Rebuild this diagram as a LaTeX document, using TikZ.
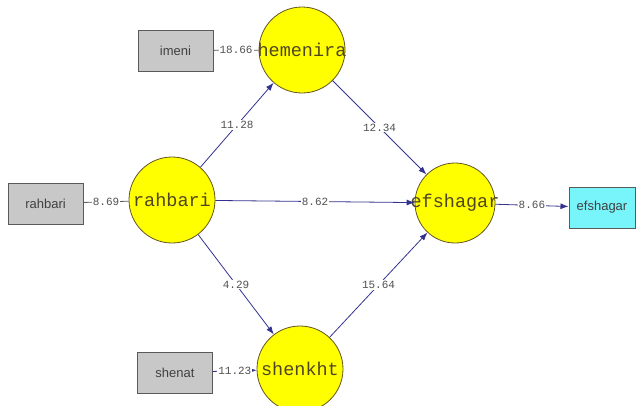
\documentclass[tikz,border=0pt]{standalone}
\usepackage{fontspec}
\newfontfamily\coeffont{Liberation Mono}
\newfontfamily\boxfont{Liberation Sans}
\usetikzlibrary{arrows.meta}

\definecolor{latfill}{RGB}{255,255,0}
\definecolor{latline}{RGB}{100,85,35}
\definecolor{lattext}{RGB}{80,70,30}
\definecolor{obsfill}{RGB}{200,200,200}
\definecolor{obsline}{RGB}{90,90,90}
\definecolor{outfill}{RGB}{120,245,250}
\definecolor{pathblue}{RGB}{50,50,145}
\definecolor{coeftext}{RGB}{80,80,80}

\begin{document}
\begin{tikzpicture}[x=1pt,y=-1pt,
    latent/.style={circle,draw=latline,fill=latfill,line width=0.8pt,minimum size=86pt,inner sep=0pt,
      label={[text=lattext,font=\coeffont\fontsize{18.5}{18.5}\selectfont]center:#1}},
    observed/.style={rectangle,draw=obsline,fill=obsfill,line width=1pt,
      minimum width=75pt,minimum height=41pt,font=\boxfont\fontsize{13}{13}\selectfont,text=black!75},
    coef/.style={fill=white,inner sep=1pt,text=coeftext,font=\coeffont\fontsize{11}{11}\selectfont},
    arrowpath/.style={draw=pathblue,line width=0.8pt,-{Latex[length=8pt,width=6pt]}}]
    \useasboundingbox (0,0) rectangle (636,405);
    \coordinate (H) at (302,50);
    \coordinate (R) at (172,200);
    \coordinate (E) at (455,203);
    \coordinate (S) at (300,369);
    \node[latent=hemenira] (hemenira) at (H) {};
    \node[latent=rahbari] (rahbari) at (R) {};
    \node[latent=efshagar,minimum size=80pt] (efshagar) at (E) {};
    \node[latent=shenkht] (shenkht) at (S) {};
    \node[observed] (imeni) at (175.5,50.5) {imeni};
    \node[observed] (rahbarib) at (45.5,203.5) {rahbari};
    \node[observed] (shenat) at (175,372.5) {shenat};
    \node[observed,fill=outfill,minimum width=66pt] (efshagarb) at (602,207.5) {efshagar};
    % measurement parts
    \draw[obsline,line width=0.8pt] (imeni) -- node[coef] {18.66} (hemenira);
    \draw[obsline,line width=0.8pt] (rahbarib) -- node[coef] {8.69} (rahbari);
    \draw[arrowpath] (shenat) -- node[coef] {11.23} (shenkht);
    \draw[arrowpath] (efshagar) -- node[coef] {8.66} (efshagarb);
    % structural parts
    \draw[arrowpath] (rahbari) -- node[coef] {11.28} (hemenira);
    \draw[arrowpath] (hemenira) -- node[coef] {12.34} (efshagar);
    \draw[arrowpath] (rahbari) -- node[coef] {8.62} (efshagar);
    \draw[arrowpath] (rahbari) -- node[coef] {4.29} (shenkht);
    \draw[arrowpath] (shenkht) -- node[coef] {15.64} (efshagar);
\end{tikzpicture}
\end{document}
